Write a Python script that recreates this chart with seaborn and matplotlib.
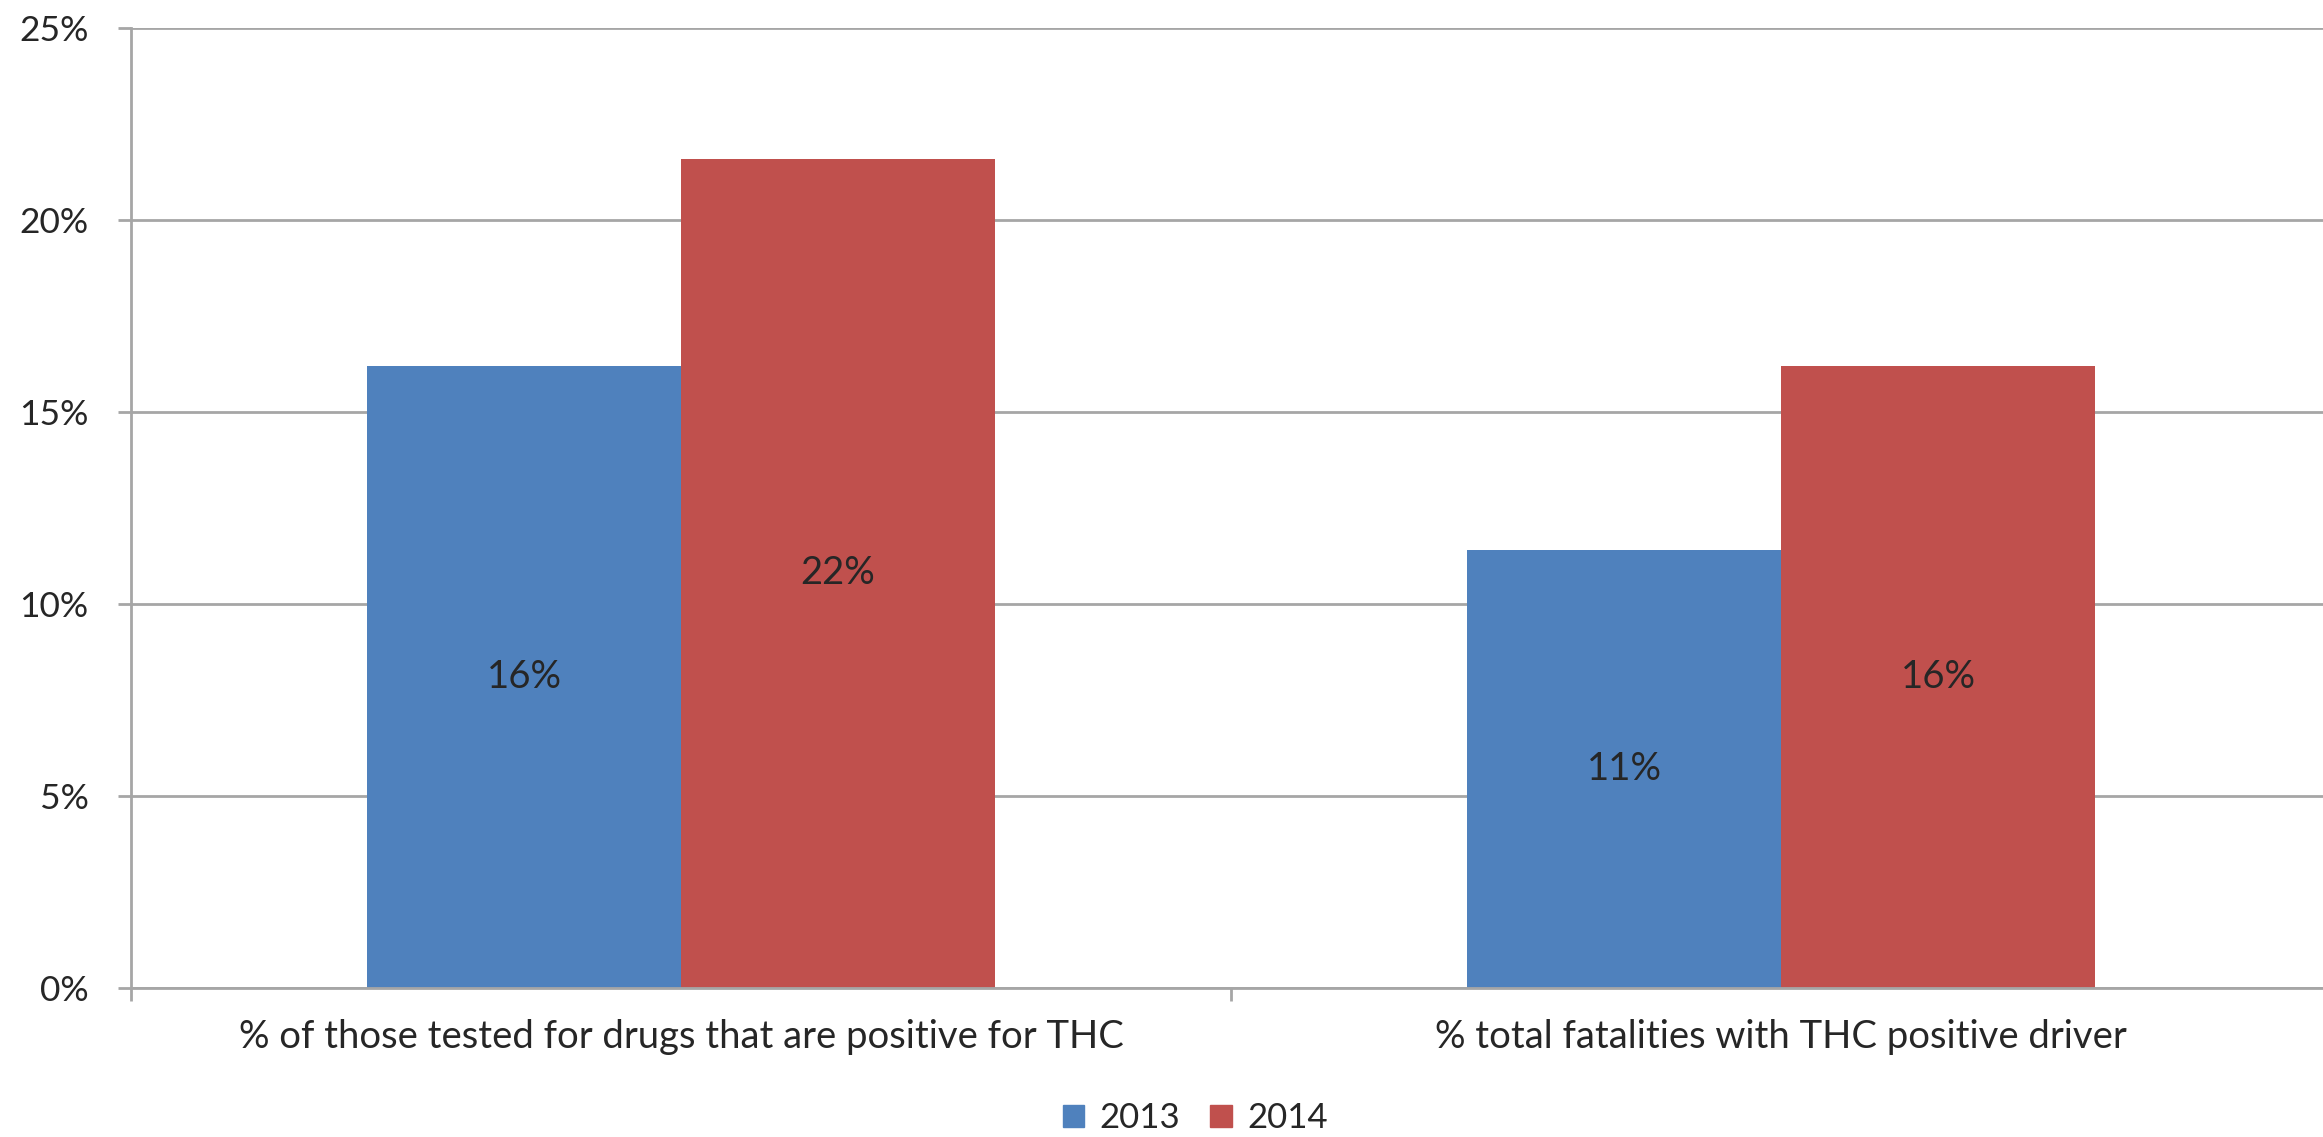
import pandas as pd
import numpy as np
import matplotlib.pyplot as plt
import seaborn as sns

# データ
categories = ['% of those tested for drugs that are positive for THC',
              '% total fatalities with THC positive driver']
years = ['2013', '2014']
values_2013 = [16.2, 11.4]
values_2014 = [21.6, 16.2]
colors = ['#4F81BD', '#C0504D']
y_ticks = [0, 5, 10, 15, 20, 25]

df = pd.DataFrame({
    'category': categories * 2,
    'year': [years[0]] * len(categories) + [years[1]] * len(categories),
    'value': values_2013 + values_2014,
})

sns.set_style('white')
plt.rcParams['font.family'] = ['Lato', 'DejaVu Sans']

grid_color = '#a6a6a6'
text_color = '#262626'

fig = plt.figure(figsize=(23.23, 11.37), dpi=100)
ax = fig.add_axes([131 / 2323, 149 / 1137, 2200 / 2323, 960 / 1137])

sns.barplot(data=df, x='category', y='value', hue='year', palette=colors,
            width=0.571, saturation=1, ax=ax, legend=False, edgecolor='none')

# 棒の中央にラベル
for cont in ax.containers:
    ax.bar_label(cont, fmt=lambda v: f'{v:.0f}%', label_type='center',
                 fontsize=27.5, color=text_color)

ax.set_xlim(-0.5, 1.5)
ax.set_ylim(0, 25)
ax.set_yticks(y_ticks)
ax.set_yticklabels([f'{t}%' for t in y_ticks])
ax.set_xlabel('')
ax.set_ylabel('')

ax.yaxis.grid(True, color=grid_color, linewidth=2)
ax.set_axisbelow(True)
for side in ['top', 'right']:
    ax.spines[side].set_visible(False)
for side in ['left', 'bottom']:
    ax.spines[side].set_color(grid_color)
    ax.spines[side].set_linewidth(2)

ax.tick_params(axis='y', which='major', left=True, length=9.5, width=2,
               color=grid_color, pad=21, labelsize=25.5, labelcolor=text_color,
               direction='out')
ax.tick_params(axis='x', which='major', bottom=False, length=0, pad=22,
               labelsize=27.5, labelcolor=text_color)
ax.set_xticks([-0.5, 0.5, 1.5], minor=True)
ax.tick_params(axis='x', which='minor', bottom=True, length=9, width=2,
               color=grid_color, direction='out')

# 凡例（下部中央）
handles = [plt.Rectangle((0, 0), 1, 1, color=c) for c in colors]
fig.legend(handles, years, loc='center',
           bbox_to_anchor=(0.5145, (1137 - 1118) / 1137),
           bbox_transform=fig.transFigure, ncol=2, frameon=False, fontsize=25,
           handlelength=0.62, handleheight=0.62, handletextpad=0.45,
           columnspacing=0.85, labelcolor=text_color)

fig.savefig('out.png', dpi=100, facecolor='white')
